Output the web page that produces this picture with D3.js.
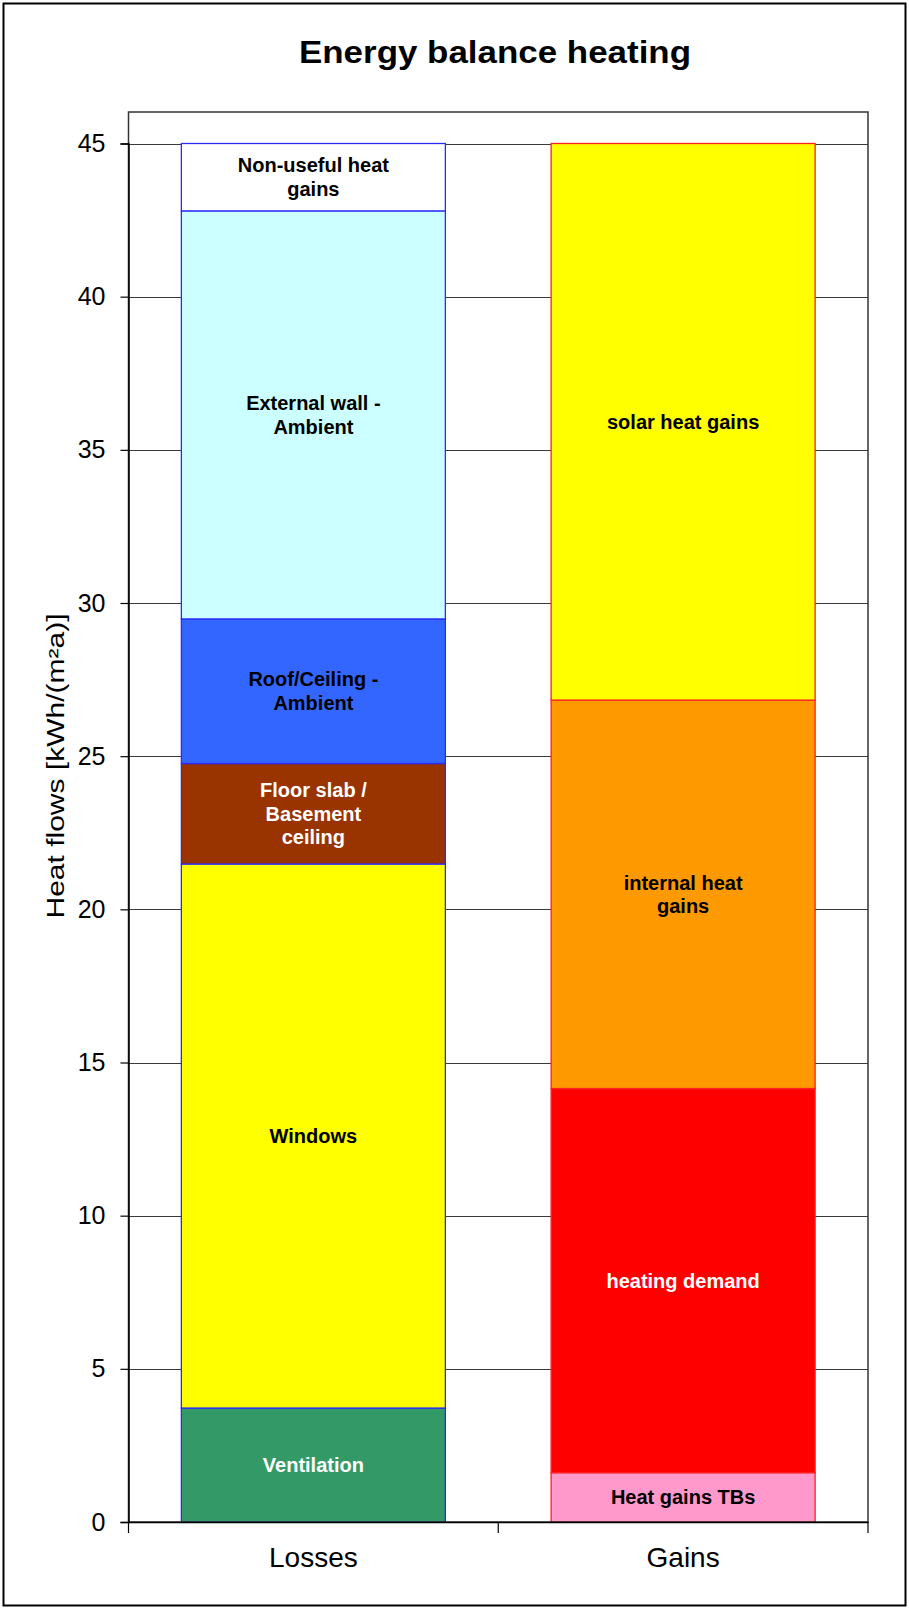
<!DOCTYPE html>
<html>
<head>
<meta charset="utf-8">
<script src="https://cdn.jsdelivr.net/npm/d3@7"></script>
<style>
  html, body { margin: 0; padding: 0; background: #fff; }
  svg { display: block; font-family: "Liberation Sans", Arial, sans-serif; }
</style>
</head>
<body>
<svg id="chart" width="909" height="1609"></svg>
<script>
// Energy balance of the heating period, kWh/(m²a)
const categories = ["Losses", "Gains"];

const lossLabels = [
  ["Ventilation"],
  ["Windows"],
  ["Floor slab /", "Basement", "ceiling"],
  ["Roof/Ceiling -", "Ambient"],
  ["External wall -", "Ambient"],
  ["Non-useful heat", "gains"]
];
const lossValues = [3.72, 17.76, 3.28, 4.72, 13.32, 2.20];
const lossColors = ["#339966", "#FFFF00", "#993300", "#3366FF", "#CCFFFF", "#FFFFFF"];
const lossTextColors = ["#FFFFFF", "#000000", "#FFFFFF", "#000000", "#000000", "#000000"];

const gainLabels = [
  ["Heat gains TBs"],
  ["heating demand"],
  ["internal heat", "gains"],
  ["solar heat gains"]
];
const gainValues = [1.61, 12.54, 12.68, 18.17];
const gainColors = ["#FF99CC", "#FF0000", "#FF9900", "#FFFF00"];
const gainTextColors = ["#000000", "#FFFFFF", "#000000", "#000000"];

const yTicks = [0, 5, 10, 15, 20, 25, 30, 35, 40, 45];

const svg = d3.select("#chart");

// chart frame
svg.append("rect")
  .attr("x", 3.5).attr("y", 3.5)
  .attr("width", 902).attr("height", 1602)
  .attr("fill", "#fff").attr("stroke", "#000").attr("stroke-width", 2);

const plot = { left: 128.5, right: 868, top: 112, bottom: 1522 };

const y = d3.scaleLinear().domain([0, 45]).range([plot.bottom, 143.5]);
const x = d3.scaleBand().domain(categories)
  .range([plot.left, plot.right])
  .paddingInner(0.286).paddingOuter(0.143);

// gridlines
svg.append("g")
  .selectAll("line")
  .data(yTicks.filter(d => d > 0))
  .join("line")
  .attr("x1", plot.left).attr("x2", plot.right)
  .attr("y1", d => Math.round(y(d)) + 0.5).attr("y2", d => Math.round(y(d)) + 0.5)
  .attr("stroke", "#3a3a3a").attr("stroke-width", 1.2);

// stacked bars
function stack(values, labels, colors, textColors, stroke, cat) {
  let acc = 0;
  const segs = values.map((v, i) => {
    const s = { y0: acc, y1: acc + v, label: labels[i], color: colors[i], text: textColors[i] };
    acc += v;
    return s;
  });
  const g = svg.append("g");
  g.selectAll("rect")
    .data(segs)
    .join("rect")
    .attr("x", x(cat))
    .attr("width", x.bandwidth())
    .attr("y", d => y(d.y1))
    .attr("height", d => y(d.y0) - y(d.y1))
    .attr("fill", d => d.color)
    .attr("stroke", stroke)
    .attr("stroke-width", 1.3);

  const lineH = 23.5;
  g.selectAll("text")
    .data(segs)
    .join("text")
    .attr("text-anchor", "middle")
    .attr("font-size", 20)
    .attr("font-weight", "bold")
    .attr("fill", d => d.text)
    .each(function (d) {
      const cy = (y(d.y0) + y(d.y1)) / 2;
      const n = d.label.length;
      const first = cy - (n - 1) * lineH / 2 + 7;
      d3.select(this).selectAll("tspan")
        .data(d.label)
        .join("tspan")
        .attr("x", x(cat) + x.bandwidth() / 2)
        .attr("y", (t, i) => first + i * lineH)
        .text(t => t);
    });
}

stack(lossValues, lossLabels, lossColors, lossTextColors, "#2a2aff", "Losses");
stack(gainValues, gainLabels, gainColors, gainTextColors, "#ff2020", "Gains");

// plot area border
svg.append("rect")
  .attr("x", plot.left).attr("y", plot.top)
  .attr("width", plot.right - plot.left).attr("height", plot.bottom - plot.top)
  .attr("fill", "none").attr("stroke", "#333").attr("stroke-width", 1.5);

// y axis
const yAxis = d3.axisLeft(y).tickValues(yTicks).tickSize(8).tickPadding(15).tickFormat(d3.format("d"));
const gy = svg.append("g").attr("transform", `translate(${plot.left},0)`).call(yAxis);
gy.select(".domain").attr("stroke", "#000").attr("stroke-width", 1.5);
gy.selectAll(".tick line").attr("stroke", "#000").attr("stroke-width", 1.2);
gy.selectAll(".tick text").attr("font-size", 25).attr("fill", "#000")
  .attr("font-family", "Liberation Sans, Arial, sans-serif");

// x axis
const xAxis = d3.axisBottom(x).tickSize(0).tickPadding(0);
const gx = svg.append("g").attr("transform", `translate(0,${plot.bottom})`).call(xAxis);
gx.select(".domain").attr("stroke", "#000").attr("stroke-width", 1.5);
gx.selectAll(".tick text")
  .attr("font-size", 28).attr("fill", "#000")
  .attr("font-family", "Liberation Sans, Arial, sans-serif")
  .attr("dy", null).attr("y", 45);
// category separators below the axis
const step = x.step();
const sepX = [plot.left, plot.left + step, plot.left + 2 * step];
gx.selectAll(".sep")
  .data(sepX)
  .join("line")
  .attr("class", "sep")
  .attr("x1", d => d).attr("x2", d => d)
  .attr("y1", 0).attr("y2", 11)
  .attr("stroke", "#000").attr("stroke-width", 1.2);

// title
svg.append("text")
  .attr("x", 495).attr("y", 63)
  .attr("text-anchor", "middle")
  .attr("font-size", 32).attr("font-weight", "bold")
  .attr("textLength", 392).attr("lengthAdjust", "spacingAndGlyphs")
  .text("Energy balance heating");

// y axis title
svg.append("text")
  .attr("transform", "translate(64,766) rotate(-90)")
  .attr("text-anchor", "middle")
  .attr("font-size", 23)
  .attr("textLength", 305).attr("lengthAdjust", "spacingAndGlyphs")
  .text("Heat flows [kWh/(m²a)]");
</script>
</body>
</html>
